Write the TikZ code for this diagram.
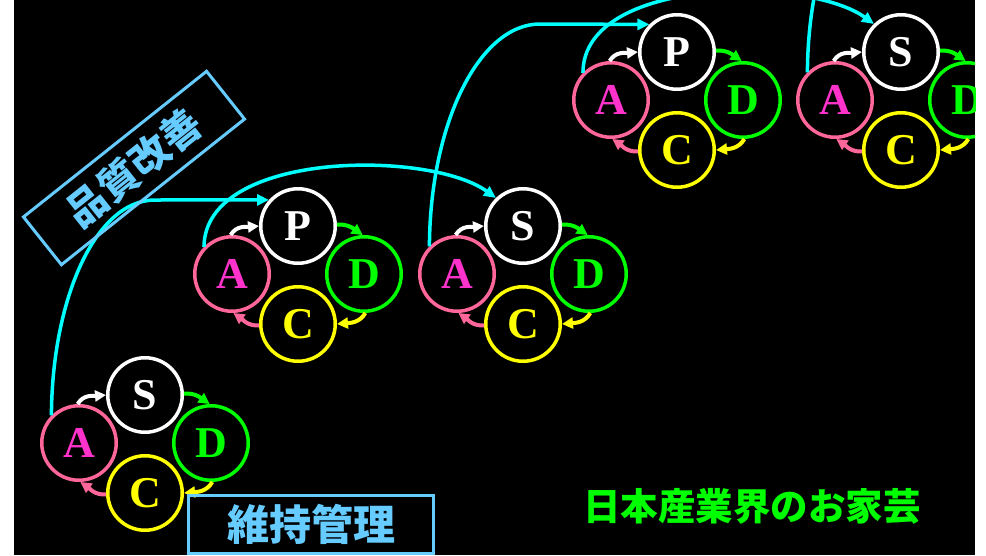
\documentclass[tikz,border=0pt]{standalone}
\usepackage{fontspec}
\newfontfamily\jpfont{Noto Sans CJK JP}
\newfontfamily\serifb{Liberation Serif}
\usetikzlibrary{arrows.meta,calc}
\definecolor{pinkc}{RGB}{255,102,153}
\definecolor{magc}{RGB}{255,51,204}
\definecolor{grn}{RGB}{0,255,0}
\definecolor{ylw}{RGB}{255,255,0}
\definecolor{cyn}{RGB}{0,255,255}
\definecolor{lblue}{RGB}{102,204,255}
\tikzset{
 ring/.style={circle, line width=3.5pt, minimum size=74.5pt, inner sep=0pt, font=\serifb\bfseries\fontsize{44}{44}\selectfont},
 topring/.style={ring, draw=white, text=white},
 aring/.style={ring, draw=pinkc, text=magc},
 dring/.style={ring, draw=grn, text=grn},
 cring/.style={ring, draw=ylw, text=ylw},
 cyc/.style={line width=4pt, -{Triangle[length=11pt,width=11pt]}},
 cyanarrow/.style={draw=cyn, line width=3.5pt, -{Triangle[length=12pt,width=11pt]}},
 labelbox/.style={draw=lblue, line width=3pt, inner sep=0pt, text=lblue},
}
\newcommand\pdcacycle[4]{%
 \begin{scope}[shift={(#2,-#3)}]
 \node[topring] (#1t) at (0,0) {#4};
 \node[aring] (#1a) at (-66,-48) {A};
 \node[dring] (#1d) at (66,-48) {D};
 \node[cring] (#1c) at (0,-98) {C};
 \draw[cyc, white] (#1a.92) to[out=60,in=185] (#1t.180);
 \draw[cyc, grn] (#1t.2) to[out=5,in=145] (#1d.92);
 \draw[cyc, ylw] (#1d.272) to[out=240,in=5] (#1c.0);
 \draw[cyc, pinkc] (#1c.182) to[out=185,in=325] (#1a.272);
 \end{scope}}
\begin{document}
\begin{tikzpicture}[x=1pt,y=1pt]
\useasboundingbox (0,0) rectangle (986,-555);
\fill[white] (0,0) rectangle (986,-555);
\fill[black] (14,0) rectangle (975,-555);
\begin{scope}
\clip (14,0) rectangle (975,-555);
\pdcacycle{ca}{145}{395}{S}
\pdcacycle{cb}{298}{226}{P}
\pdcacycle{cc}{523}{226}{S}
\pdcacycle{cd}{677}{52}{P}
\pdcacycle{ce}{901}{52}{S}
% cyan connectors
\coordinate (k1) at (155,-200);
\draw[cyanarrow] (caa.135) .. controls (52,-300) and (95,-200) .. (k1) -- (cbt.138);
\draw[cyanarrow] (cba.136) .. controls (205,-150) and (430,-150) .. (cct.134);
\coordinate (k3) at (540,-24);
\draw[cyanarrow] (cca.135) .. controls (430,-124) and (479,-24) .. (k3) -- (cdt.135);
\draw[cyanarrow] (cda.136) .. controls (583,24) and (808,24) .. (cet.134);
\coordinate (k5) at (918,150);
\draw[draw=cyn, line width=3.5pt] (cea.135) .. controls (808,50) and (857,150) .. (k5);
% labels
\node[labelbox, rotate=38.5, minimum width=234pt, minimum height=61pt,
      font=\jpfont\bfseries\fontsize{40}{40}\selectfont] (qi) at (134,-168) {品質改善};
\node[labelbox, minimum width=245pt, minimum height=58pt,
      font=\jpfont\bfseries\fontsize{42}{42}\selectfont] (mm) at (311,-524.5) {維持管理};
\node[text=grn, inner sep=0pt, font=\jpfont\bfseries\fontsize{37.5}{37.5}\selectfont] (nh) at (752,-506) {日本産業界のお家芸};
\end{scope}
\end{tikzpicture}
\end{document}
